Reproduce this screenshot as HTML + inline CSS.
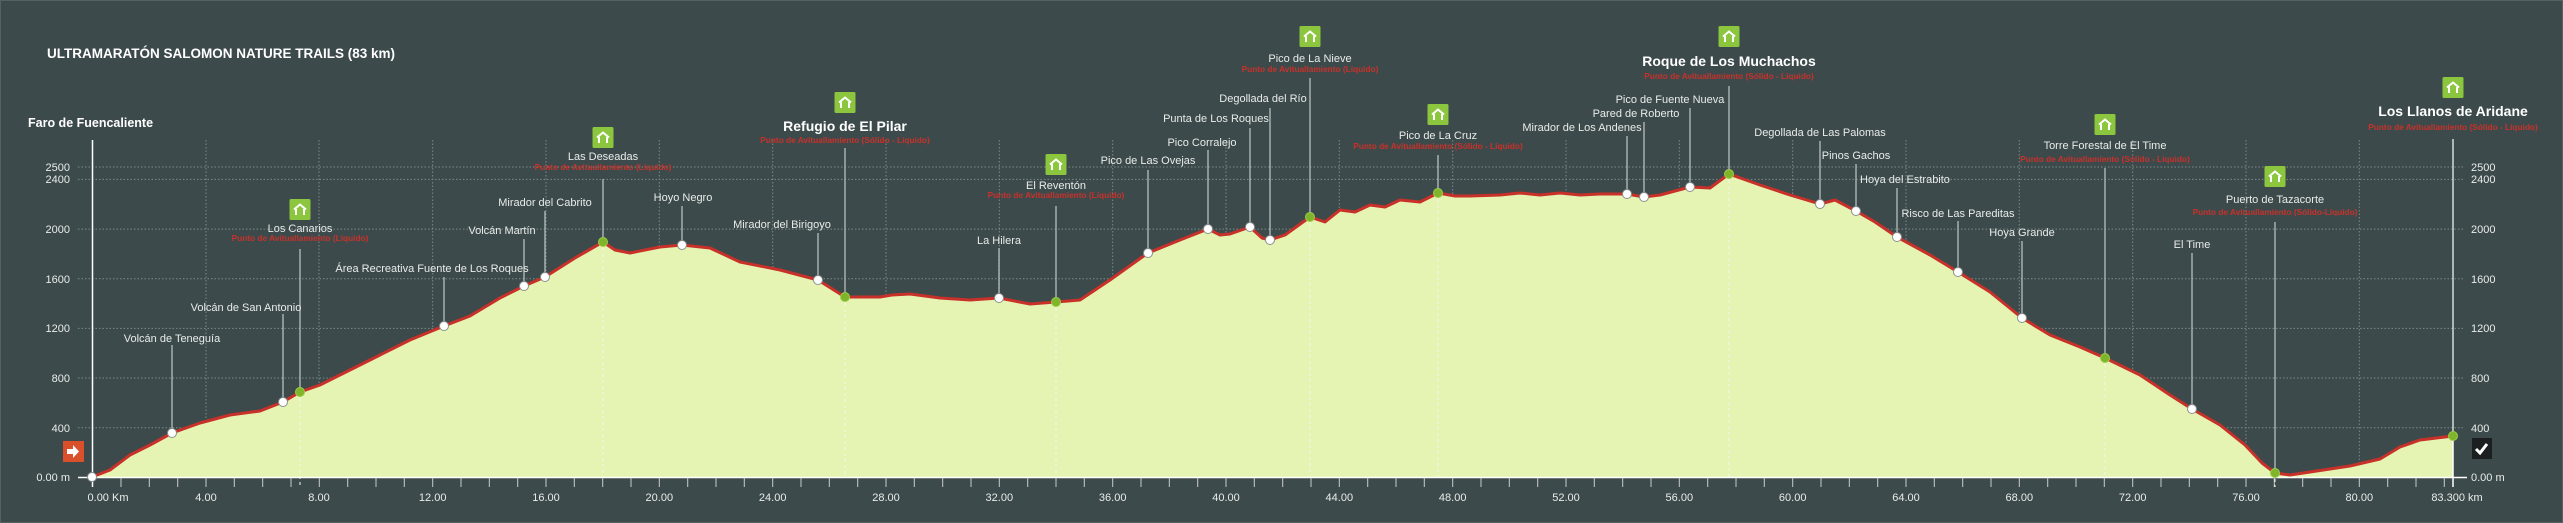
<!DOCTYPE html>
<html><head><meta charset="utf-8"><style>
html,body{margin:0;padding:0;background:#3d4a4b;}
svg{display:block;font-family:"Liberation Sans",Arial,sans-serif;}
.l{fill:#e8ecea;font-size:11px;text-anchor:middle}
.b{fill:#ffffff;font-size:14px;font-weight:bold;text-anchor:middle}
.r{fill:#c8312a;font-size:8.3px;font-weight:bold;text-anchor:middle}
.ax{fill:#e8ecea;font-size:11px}
.g{stroke:#7d8a8a;stroke-width:1;stroke-dasharray:1.5 2}
.v{stroke:#b8bfbf;stroke-width:1.3}
.wm{fill:#fff;stroke:#8a9090;stroke-width:1}
.gm{fill:#7fb52a;stroke:#9ccc4a;stroke-width:1}
</style></head><body>
<svg width="2563" height="523" viewBox="0 0 2563 523">
<rect x="0" y="0" width="2563" height="523" fill="#3d4a4b"/>
<rect x="0.5" y="0.5" width="2562" height="522" fill="none" stroke="#566262"/>
<text x="47" y="58" fill="#fff" font-size="13.5" font-weight="bold">ULTRAMARATÓN SALOMON NATURE TRAILS (83 km)</text>
<text x="28" y="127" fill="#fff" font-size="12.5" font-weight="bold">Faro de Fuencaliente</text>
<g class="g">
<line x1="78" y1="427.7" x2="2465" y2="427.7"/><line x1="78" y1="378" x2="2465" y2="378"/>
<line x1="78" y1="328.4" x2="2465" y2="328.4"/><line x1="78" y1="278.7" x2="2465" y2="278.7"/>
<line x1="78" y1="229.1" x2="2465" y2="229.1"/><line x1="78" y1="179.4" x2="2465" y2="179.4"/>
<line x1="78" y1="167" x2="2465" y2="167"/>
<line x1="206" y1="140" x2="206" y2="477"/><line x1="319" y1="140" x2="319" y2="477"/><line x1="432.7" y1="140" x2="432.7" y2="477"/>
<line x1="546" y1="140" x2="546" y2="477"/><line x1="659.3" y1="140" x2="659.3" y2="477"/><line x1="772.7" y1="140" x2="772.7" y2="477"/>
<line x1="886" y1="140" x2="886" y2="477"/><line x1="999.3" y1="140" x2="999.3" y2="477"/><line x1="1112.7" y1="140" x2="1112.7" y2="477"/>
<line x1="1226" y1="140" x2="1226" y2="477"/><line x1="1339.3" y1="140" x2="1339.3" y2="477"/><line x1="1452.7" y1="140" x2="1452.7" y2="477"/>
<line x1="1566" y1="140" x2="1566" y2="477"/><line x1="1679.3" y1="140" x2="1679.3" y2="477"/><line x1="1792.7" y1="140" x2="1792.7" y2="477"/>
<line x1="1906" y1="140" x2="1906" y2="477"/><line x1="2019.3" y1="140" x2="2019.3" y2="477"/><line x1="2132.7" y1="140" x2="2132.7" y2="477"/>
<line x1="2246" y1="140" x2="2246" y2="477"/><line x1="2359.3" y1="140" x2="2359.3" y2="477"/>
</g>
<polygon fill="#e5f4b3" points="92,477 110,470 130,455 150,445 172,433 200,423 230,415 260,411 283,402 300,392 320,385 350,370 380,355 410,340 444,326 470,316 500,298 524,286 545,277 575,258 603,242 615,250 630,253 660,247 682,245 710,248 740,262 780,270 818,280 845,297 880,297 892,295 910,294 940,298 970,300 999,298 1030,304 1056,302 1080,300 1110,280 1148,253 1180,240 1208,229 1220,235 1230,234 1250,227 1262,238 1270,240 1285,235 1310,217 1325,222 1340,210 1355,212 1370,205 1385,207 1400,200 1420,202 1438,193 1455,196 1470,196 1500,195 1520,193 1540,195 1560,193 1580,195 1600,194 1627,194 1644,197 1660,195 1690,187 1710,188 1729,174 1760,185 1790,195 1820,204 1835,200 1856,211 1875,222 1897,237 1930,255 1958,272 1990,292 2022,318 2050,335 2080,347 2105,358 2140,375 2170,395 2192,409 2220,425 2245,445 2262,463 2275,473 2290,475 2350,466 2380,459 2400,447 2420,440 2453,436 2453,477"/>
<polyline fill="none" stroke="#c8312a" stroke-width="3" stroke-linejoin="round" points="92,477 110,470 130,455 150,445 172,433 200,423 230,415 260,411 283,402 300,392 320,385 350,370 380,355 410,340 444,326 470,316 500,298 524,286 545,277 575,258 603,242 615,250 630,253 660,247 682,245 710,248 740,262 780,270 818,280 845,297 880,297 892,295 910,294 940,298 970,300 999,298 1030,304 1056,302 1080,300 1110,280 1148,253 1180,240 1208,229 1220,235 1230,234 1250,227 1262,238 1270,240 1285,235 1310,217 1325,222 1340,210 1355,212 1370,205 1385,207 1400,200 1420,202 1438,193 1455,196 1470,196 1500,195 1520,193 1540,195 1560,193 1580,195 1600,194 1627,194 1644,197 1660,195 1690,187 1710,188 1729,174 1760,185 1790,195 1820,204 1835,200 1856,211 1875,222 1897,237 1930,255 1958,272 1990,292 2022,318 2050,335 2080,347 2105,358 2140,375 2170,395 2192,409 2220,425 2245,445 2262,463 2275,473 2290,475 2350,466 2380,459 2400,447 2420,440 2453,436"/>
<line x1="92.5" y1="140" x2="92.5" y2="487" stroke="#fff" stroke-width="1.5"/>
<line x1="2453" y1="139" x2="2453" y2="487" stroke="#fff" stroke-width="1.5"/>
<line x1="78" y1="477.5" x2="2467" y2="477.5" stroke="#fff" stroke-width="1.5"/>
<g stroke="#c8cccc" stroke-width="1">
<path d="M121,478v9M149.3,478v9M177.7,478v9M206,478v9M234.3,478v9M262.7,478v9M291,478v9M319.3,478v9M347.7,478v9M376,478v9M404.3,478v9M432.7,478v9M461,478v9M489.3,478v9M517.7,478v9M546,478v9M574.3,478v9M602.7,478v9M631,478v9M659.3,478v9M687.7,478v9M716,478v9M744.3,478v9M772.7,478v9M801,478v9M829.3,478v9M857.7,478v9M886,478v9M914.3,478v9M942.7,478v9M971,478v9M999.3,478v9M1027.7,478v9M1056,478v9M1084.3,478v9M1112.7,478v9M1141,478v9M1169.3,478v9M1197.7,478v9M1226,478v9M1254.3,478v9M1282.7,478v9M1311,478v9M1339.3,478v9M1367.7,478v9M1396,478v9M1424.3,478v9M1452.7,478v9M1481,478v9M1509.3,478v9M1537.7,478v9M1566,478v9M1594.3,478v9M1622.7,478v9M1651,478v9M1679.3,478v9M1707.7,478v9M1736,478v9M1764.3,478v9M1792.7,478v9M1821,478v9M1849.3,478v9M1877.7,478v9M1906,478v9M1934.3,478v9M1962.7,478v9M1991,478v9M2019.3,478v9M2047.7,478v9M2076,478v9M2104.3,478v9M2132.7,478v9M2161,478v9M2189.3,478v9M2217.7,478v9M2246,478v9M2274.3,478v9M2302.7,478v9M2331,478v9M2359.3,478v9M2387.7,478v9M2416,478v9M2444.3,478v9"/>
</g>
<g class="ax" text-anchor="end">
<text x="70" y="481">0.00 m</text><text x="70" y="432">400</text><text x="70" y="382">800</text><text x="70" y="332">1200</text>
<text x="70" y="283">1600</text><text x="70" y="233">2000</text><text x="70" y="183">2400</text><text x="70" y="171">2500</text>
</g>
<g class="ax">
<text x="2471" y="481">0.00 m</text><text x="2471" y="432">400</text><text x="2471" y="382">800</text><text x="2471" y="332">1200</text>
<text x="2471" y="283">1600</text><text x="2471" y="233">2000</text><text x="2471" y="183">2400</text><text x="2471" y="171">2500</text>
</g>
<g class="ax" text-anchor="middle">
<text x="108" y="501">0.00 Km</text><text x="206" y="501">4.00</text><text x="319" y="501">8.00</text><text x="432.7" y="501">12.00</text>
<text x="546" y="501">16.00</text><text x="659.3" y="501">20.00</text><text x="772.7" y="501">24.00</text><text x="886" y="501">28.00</text>
<text x="999.3" y="501">32.00</text><text x="1112.7" y="501">36.00</text><text x="1226" y="501">40.00</text><text x="1339.3" y="501">44.00</text>
<text x="1452.7" y="501">48.00</text><text x="1566" y="501">52.00</text><text x="1679.3" y="501">56.00</text><text x="1792.7" y="501">60.00</text>
<text x="1906" y="501">64.00</text><text x="2019.3" y="501">68.00</text><text x="2132.7" y="501">72.00</text><text x="2246" y="501">76.00</text>
<text x="2359.3" y="501">80.00</text><text x="2457" y="501">83.300 km</text>
</g>
<rect x="63" y="441" width="21" height="21" fill="#d9502b"/>
<path d="M67,449h6v-4l6,6.5-6,6.5v-4h-6z" fill="#fff"/>
<rect x="2472" y="438" width="20" height="21" fill="#1c1f1f"/>
<path d="M2476,449l4,4 7-9" fill="none" stroke="#fff" stroke-width="3"/>
<g stroke="#f4f8e8" stroke-width="1" stroke-dasharray="3 3">
<line x1="300" y1="392" x2="300" y2="487"/><line x1="603" y1="242" x2="603" y2="477"/><line x1="845" y1="297" x2="845" y2="477"/>
<line x1="1056" y1="302" x2="1056" y2="477"/><line x1="1310" y1="217" x2="1310" y2="477"/><line x1="1438" y1="193" x2="1438" y2="477"/>
<line x1="1729" y1="174" x2="1729" y2="477"/><line x1="2105" y1="358" x2="2105" y2="477"/><line x1="2275" y1="473" x2="2275" y2="487"/>
</g>
<g class="v">
<line x1="172" y1="345" x2="172" y2="433"/><line x1="283" y1="314" x2="283" y2="402"/><line x1="300" y1="249" x2="300" y2="392"/>
<line x1="444" y1="277" x2="444" y2="326"/><line x1="524" y1="239" x2="524" y2="286"/><line x1="545" y1="211" x2="545" y2="277"/>
<line x1="603" y1="179" x2="603" y2="242"/><line x1="682" y1="206" x2="682" y2="245"/><line x1="818" y1="233" x2="818" y2="280"/>
<line x1="845" y1="148" x2="845" y2="297"/><line x1="999" y1="248" x2="999" y2="298"/><line x1="1056" y1="206" x2="1056" y2="302"/>
<line x1="1148" y1="170" x2="1148" y2="253"/><line x1="1208" y1="150" x2="1208" y2="229"/><line x1="1250" y1="128" x2="1250" y2="227"/>
<line x1="1270" y1="108" x2="1270" y2="240"/><line x1="1310" y1="78" x2="1310" y2="217"/><line x1="1438" y1="155" x2="1438" y2="193"/>
<line x1="1627" y1="136" x2="1627" y2="194"/><line x1="1644" y1="122" x2="1644" y2="197"/><line x1="1690" y1="108" x2="1690" y2="187"/>
<line x1="1729" y1="86" x2="1729" y2="174"/><line x1="1820" y1="141" x2="1820" y2="204"/><line x1="1856" y1="164" x2="1856" y2="211"/>
<line x1="1897" y1="188" x2="1897" y2="237"/><line x1="1958" y1="221" x2="1958" y2="272"/><line x1="2022" y1="241" x2="2022" y2="318"/>
<line x1="2105" y1="168" x2="2105" y2="358"/><line x1="2192" y1="253" x2="2192" y2="409"/><line x1="2275" y1="222" x2="2275" y2="473"/>
<line x1="2453" y1="139" x2="2453" y2="436"/>
</g>
<g class="wm">
<circle cx="92" cy="477" r="4.5"/><circle cx="172" cy="433" r="4.5"/><circle cx="283" cy="402" r="4.5"/><circle cx="444" cy="326" r="4.5"/>
<circle cx="524" cy="286" r="4.5"/><circle cx="545" cy="277" r="4.5"/><circle cx="682" cy="245" r="4.5"/><circle cx="818" cy="280" r="4.5"/>
<circle cx="999" cy="298" r="4.5"/><circle cx="1148" cy="253" r="4.5"/><circle cx="1208" cy="229" r="4.5"/><circle cx="1250" cy="227" r="4.5"/>
<circle cx="1270" cy="240" r="4.5"/><circle cx="1627" cy="194" r="4.5"/><circle cx="1644" cy="197" r="4.5"/><circle cx="1690" cy="187" r="4.5"/>
<circle cx="1820" cy="204" r="4.5"/><circle cx="1856" cy="211" r="4.5"/><circle cx="1897" cy="237" r="4.5"/><circle cx="1958" cy="272" r="4.5"/>
<circle cx="2022" cy="318" r="4.5"/><circle cx="2192" cy="409" r="4.5"/>
</g>
<g class="gm">
<circle cx="300" cy="392" r="4.5"/><circle cx="603" cy="242" r="4.5"/><circle cx="845" cy="297" r="4.5"/><circle cx="1056" cy="302" r="4.5"/>
<circle cx="1310" cy="217" r="4.5"/><circle cx="1438" cy="193" r="4.5"/><circle cx="1729" cy="174" r="4.5"/><circle cx="2105" cy="358" r="4.5"/>
<circle cx="2275" cy="473" r="4.5"/><circle cx="2453" cy="436" r="4.5"/>
</g>
<g class="l">
<text x="172" y="342">Volcán de Teneguía</text><text x="246" y="311">Volcán de San Antonio</text>
<text x="300" y="232">Los Canarios</text><text x="432" y="272">Área Recreativa Fuente de Los Roques</text>
<text x="502" y="234">Volcán Martín</text><text x="545" y="206">Mirador del Cabrito</text><text x="603" y="160">Las Deseadas</text>
<text x="683" y="201">Hoyo Negro</text><text x="782" y="228">Mirador del Birigoyo</text><text x="999" y="244">La Hilera</text>
<text x="1056" y="189">El Reventón</text><text x="1148" y="164">Pico de Las Ovejas</text><text x="1202" y="146">Pico Corralejo</text>
<text x="1216" y="122">Punta de Los Roques</text><text x="1263" y="102">Degollada del Río</text><text x="1310" y="62">Pico de La Nieve</text>
<text x="1438" y="139">Pico de La Cruz</text><text x="1582" y="131">Mirador de Los Andenes</text><text x="1636" y="117">Pared de Roberto</text>
<text x="1670" y="103">Pico de Fuente Nueva</text><text x="1820" y="136">Degollada de Las Palomas</text><text x="1856" y="159">Pinos Gachos</text>
<text x="1905" y="183">Hoya del Estrabito</text><text x="1958" y="217">Risco de Las Pareditas</text><text x="2022" y="236">Hoya Grande</text>
<text x="2105" y="149">Torre Forestal de El Time</text><text x="2192" y="248">El Time</text><text x="2275" y="203">Puerto de Tazacorte</text>
</g>
<g class="b">
<text x="845" y="131">Refugio de El Pilar</text><text x="1729" y="66">Roque de Los Muchachos</text><text x="2453" y="116">Los Llanos de Aridane</text>
</g>
<g class="r">
<text x="300" y="241">Punto de Avituallamiento (Líquido)</text><text x="603" y="170">Punto de Avituallamiento (Líquido)</text>
<text x="845" y="143">Punto de Avituallamiento (Sólido - Líquido)</text><text x="1056" y="198">Punto de Avituallamiento (Líquido)</text>
<text x="1310" y="72">Punto de Avituallamiento (Líquido)</text><text x="1438" y="149">Punto de Avituallamiento (Sólido - Líquido)</text>
<text x="1729" y="79">Punto de Avituallamiento (Sólido - Líquido)</text><text x="2105" y="162">Punto de Avituallamiento (Sólido - Líquido)</text>
<text x="2275" y="215">Punto de Avituallamiento (Sólido-Líquido)</text><text x="2453" y="130">Punto de Avituallamiento (Sólido - Líquido)</text>
</g>
<g>
<rect x="289.5" y="199" width="21" height="21" rx="1.5" fill="#8cc63e"/>
<rect x="592.5" y="127" width="21" height="21" rx="1.5" fill="#8cc63e"/>
<rect x="834.5" y="92" width="21" height="21" rx="1.5" fill="#8cc63e"/>
<rect x="1045.5" y="154" width="21" height="21" rx="1.5" fill="#8cc63e"/>
<rect x="1299.5" y="26" width="21" height="21" rx="1.5" fill="#8cc63e"/>
<rect x="1427.5" y="104" width="21" height="21" rx="1.5" fill="#8cc63e"/>
<rect x="1718.5" y="26" width="21" height="21" rx="1.5" fill="#8cc63e"/>
<rect x="2094.5" y="114" width="21" height="21" rx="1.5" fill="#8cc63e"/>
<rect x="2264.5" y="166" width="21" height="21" rx="1.5" fill="#8cc63e"/>
<rect x="2442.5" y="77" width="21" height="21" rx="1.5" fill="#8cc63e"/>
</g>
<g fill="none" stroke="#fff" stroke-width="2">
<path d="M294,209.5l6-5 6,5M296,209v6M304,209v6"/>
<path d="M597,137.5l6-5 6,5M599,137v6M607,137v6"/>
<path d="M839,102.5l6-5 6,5M841,102v6M849,102v6"/>
<path d="M1050,164.5l6-5 6,5M1052,164v6M1060,164v6"/>
<path d="M1304,36.5l6-5 6,5M1306,36v6M1314,36v6"/>
<path d="M1432,114.5l6-5 6,5M1434,114v6M1442,114v6"/>
<path d="M1723,36.5l6-5 6,5M1725,36v6M1733,36v6"/>
<path d="M2099,124.5l6-5 6,5M2101,124v6M2109,124v6"/>
<path d="M2269,176.5l6-5 6,5M2271,176v6M2279,176v6"/>
<path d="M2447,87.5l6-5 6,5M2449,87v6M2457,87v6"/>
</g>
</svg>
</body></html>
